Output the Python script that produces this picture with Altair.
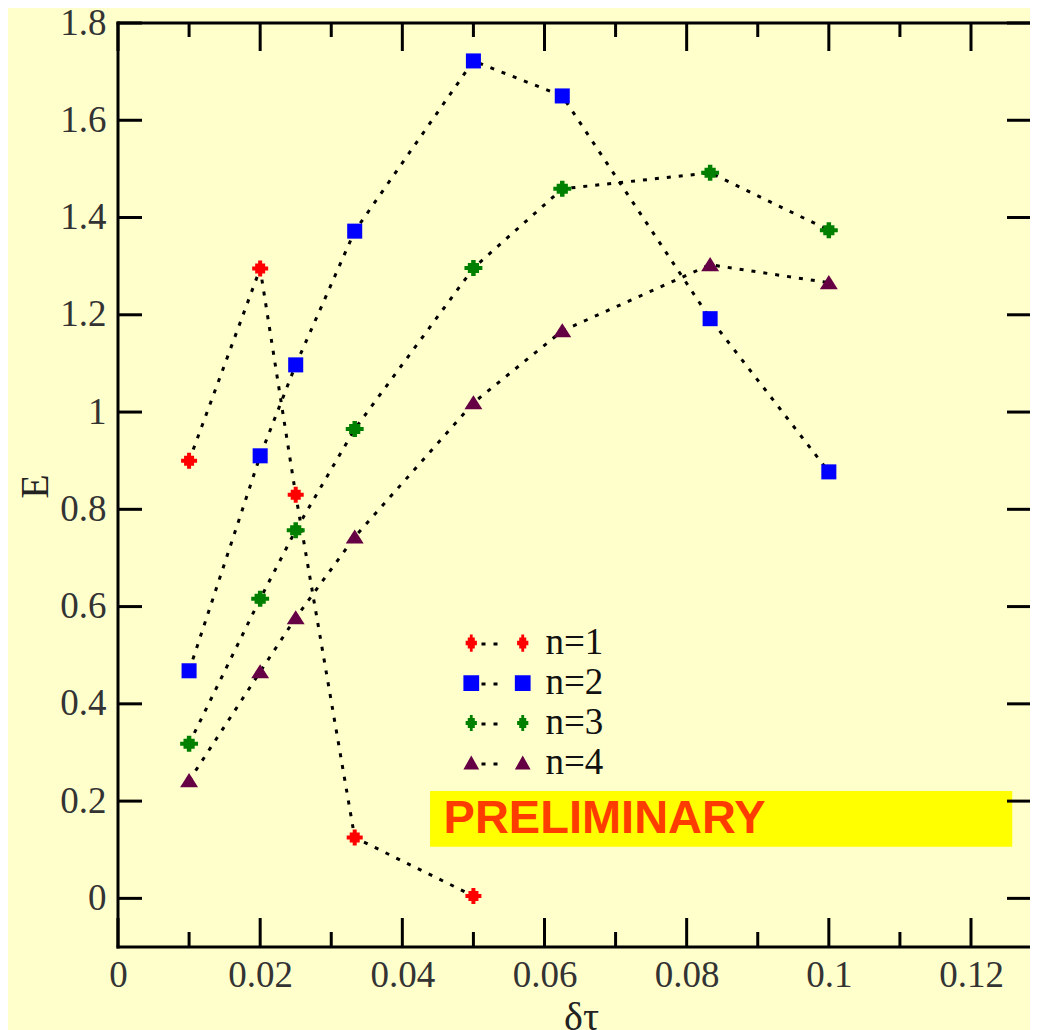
import altair as alt
import pandas as pd

# ---------------- data ----------------
series_names = ["n=1", "n=2", "n=3", "n=4"]
series_colors = ["#FF0000", "#0000FF", "#008000", "#660044"]

n1_x = [0.01, 0.02, 0.025, 0.0333, 0.05]
n1_E = [0.90, 1.295, 0.83, 0.125, 0.005]

n2_x = [0.01, 0.02, 0.025, 0.0333, 0.05, 0.0625, 0.0833, 0.1]
n2_E = [0.468, 0.91, 1.097, 1.372, 1.722, 1.650, 1.192, 0.877]

n3_x = [0.01, 0.02, 0.025, 0.0333, 0.05, 0.0625, 0.0833, 0.1]
n3_E = [0.318, 0.616, 0.757, 0.965, 1.296, 1.459, 1.492, 1.374]

n4_x = [0.01, 0.02, 0.025, 0.0333, 0.05, 0.0625, 0.0833, 0.1]
n4_E = [0.242, 0.466, 0.577, 0.743, 1.019, 1.167, 1.303, 1.266]

x_major = [0, 0.02, 0.04, 0.06, 0.08, 0.1, 0.12]
x_minor = [0.01, 0.03, 0.05, 0.07, 0.09, 0.11]
y_major = [0, 0.2, 0.4, 0.6, 0.8, 1, 1.2, 1.4, 1.6, 1.8]

note_text = ["PRELIMINARY"]
note_box_x = [0.0439, 0.1258]
note_box_y = [0.106, 0.221]
note_text_pos = [0.0458, 0.163]

x_domain = [0, 0.1283]
y_domain = [-0.1, 1.8]

# ---------------- tables ----------------
rows = []
for name, xs_, es in zip(series_names, [n1_x, n2_x, n3_x, n4_x], [n1_E, n2_E, n3_E, n4_E]):
    for xv, ev in zip(xs_, es):
        rows.append({"series": name, "x": xv, "E": ev})
df = pd.DataFrame(rows)

df_box = pd.DataFrame({"x0": [note_box_x[0]], "x1": [note_box_x[1]],
                       "y0": [note_box_y[0]], "y1": [note_box_y[1]]})
df_text = pd.DataFrame({"x": [note_text_pos[0]], "E": [note_text_pos[1]], "t": note_text})
df_one = pd.DataFrame({"k": [0]})

# ---------------- marker shapes (style) ----------------
PLUS = [(-0.25, -1), (0.25, -1), (0.25, -0.625), (0.625, -0.625), (0.625, -0.25), (1, -0.25),
        (1, 0.25), (0.625, 0.25), (0.625, 0.625), (0.25, 0.625), (0.25, 1), (-0.25, 1),
        (-0.25, 0.625), (-0.625, 0.625), (-0.625, 0.25), (-1, 0.25), (-1, -0.25),
        (-0.625, -0.25), (-0.625, -0.625), (-0.25, -0.625)]
SQUARE = [(-1, -1), (1, -1), (1, 1), (-1, 1)]
TRI = [(0, -1), (1, 0.85), (-1, 0.85)]


def poly(pts, sx=1.0, sy=1.0, cx=0.0):
    return "M" + "L".join(f"{cx + px * sx:.3f},{py * sy:.3f}" for px, py in pts) + "Z"


def pair(pts, sx, sy, off=3.43):
    return poly(pts, sx, sy, -off) + poly(pts, sx, sy, off)


data_shapes = [poly(PLUS, 1.0, 1.0), poly(SQUARE, 0.94, 0.94),
               poly(PLUS, 1.12, 1.0), poly(TRI, 1.12, 0.95)]
legend_shapes = [pair(PLUS, 0.75, 1.15), pair(SQUARE, 1.05, 1.05),
                 pair(PLUS, 0.75, 1.07), pair(TRI, 1.05, 1.0)]

SERIF = "Liberation Serif"
W, H = 912, 924
xs = alt.Scale(domain=x_domain, nice=False, zero=False)
ys = alt.Scale(domain=y_domain, nice=False, zero=False)

ax_x = alt.Axis(values=x_major, format="~g", title="δτ", grid=False, ticks=False,
                tickSize=0, domain=False, labelFont=SERIF, labelFontSize=37,
                labelColor="#333", labelPadding=10, labelFlush=False,
                titleFont=SERIF, titleFontSize=40, titleFontWeight="normal",
                titleColor="#222", titleX=463, titleY=50, titleBaseline="top",
                titleAlign="center")
ax_y = alt.Axis(values=y_major, format="~g", title="E", grid=False, ticks=False,
                tickSize=0, domain=False, labelFont=SERIF, labelFontSize=37,
                labelColor="#333", labelPadding=12, labelFlush=False,
                titleFont=SERIF, titleFontSize=40, titleFontWeight="normal",
                titleColor="#222", titleX=-83, titleY=463, titleAngle=270,
                titleBaseline="middle", titleAlign="center")


def X(f):
    return alt.X(f, scale=xs, axis=ax_x)


def Y(f):
    return alt.Y(f, scale=ys, axis=ax_y)


color_scale = alt.Scale(domain=series_names, range=series_colors)

# ---------------- layers ----------------
box = alt.Chart(df_box).mark_rect(color="#FFFF00").encode(
    x=X("x0:Q"), x2="x1:Q", y=Y("y0:Q"), y2="y1:Q")

note = alt.Chart(df_text).mark_text(
    align="left", baseline="middle", font="Liberation Sans", fontWeight="bold",
    fontSize=47, color="#FF3C00").encode(x=X("x:Q"), y=Y("E:Q"), text="t:N")

lines = alt.Chart(df).transform_calculate(key="'dots ' + datum.series").mark_line(
    color="black", strokeWidth=3, strokeCap="butt").encode(
    x=X("x:Q"), y=Y("E:Q"),
    detail="series:N",
    order="x:Q",
    strokeDash=alt.StrokeDash(
        "key:N",
        scale=alt.Scale(range=[[4, 8]] * 4),
        legend=alt.Legend(orient="none", legendX=350, legendY=601.5, title=None,
                          direction="vertical", symbolType="stroke", symbolSize=1296,
                          symbolStrokeColor="black", symbolStrokeWidth=3,
                          labelExpr="''", labelFont=SERIF, labelFontSize=37,
                          rowPadding=2, padding=0, labelOffset=10)))

legend_layer = alt.Chart(df).mark_point(
    filled=True, opacity=0, size=225, strokeWidth=0).encode(
    x=X("x:Q"), y=Y("E:Q"),
    color=alt.Color("series:N", scale=color_scale,
                    legend=alt.Legend(orient="none", legendX=360.5, legendY=601.5, title=None,
                                      direction="vertical", symbolSize=225,
                                      symbolStrokeWidth=0, symbolOpacity=1, labelFont=SERIF,
                                      labelFontSize=37, labelColor="#111",
                                      rowPadding=2, padding=0, labelOffset=30)),
    shape=alt.Shape("series:N", scale=alt.Scale(domain=series_names, range=legend_shapes),
                    legend=alt.Legend(orient="none", legendX=360.5, legendY=601.5, title=None,
                                      direction="vertical", symbolSize=225,
                                      symbolStrokeWidth=0, symbolOpacity=1, labelFont=SERIF,
                                      labelFontSize=37, labelColor="#111",
                                      rowPadding=2, padding=0, labelOffset=30)))

point_layers = []
for name, shp in zip(series_names, data_shapes):
    point_layers.append(
        alt.Chart(df).transform_filter(alt.datum.series == name).mark_point(
            filled=True, opacity=1, size=256, strokeWidth=0, shape=shp).encode(
            x=X("x:Q"), y=Y("E:Q"),
            color=alt.Color("series:N", scale=color_scale, legend=None)))


def rule_layer(vals, channel, a, b):
    d = pd.DataFrame({"v": vals})
    if channel == "x":
        return alt.Chart(d).mark_rule(color="black", strokeWidth=3).encode(
            x=X("v:Q"), y=alt.value(a), y2=alt.value(b))
    return alt.Chart(d).mark_rule(color="black", strokeWidth=3).encode(
        y=Y("v:Q"), x=alt.value(a), x2=alt.value(b))


ticks = [
    rule_layer(x_major, "x", H, H - 29), rule_layer(x_minor, "x", H, H - 15),
    rule_layer(x_major, "x", 0, 28), rule_layer(x_minor, "x", 0, 14),
    rule_layer(y_major, "y", 0, 24), rule_layer(y_major, "y", W, W - 23),
]

frame_style = dict(color="black", strokeWidth=3, strokeCap="square")
frame = [
    alt.Chart(df_one).mark_rule(**frame_style).encode(
        x=alt.value(0), y=alt.value(0), y2=alt.value(H)),
    alt.Chart(df_one).mark_rule(**frame_style).encode(
        y=alt.value(0), x=alt.value(0), x2=alt.value(W)),
    alt.Chart(df_one).mark_rule(**frame_style).encode(
        y=alt.value(H), x=alt.value(0), x2=alt.value(W)),
]

chart = alt.layer(box, note, lines, legend_layer, *point_layers, *ticks, *frame).properties(
    width=W, height=H, background="#FFFFCC",
    autosize=alt.AutoSizeParams(type="none"),
    padding={"left": 110, "top": 15, "right": 0, "bottom": 83},
).configure_view(stroke=None)

chart.save("out.html", embed_options={"renderer": "svg", "actions": False})
